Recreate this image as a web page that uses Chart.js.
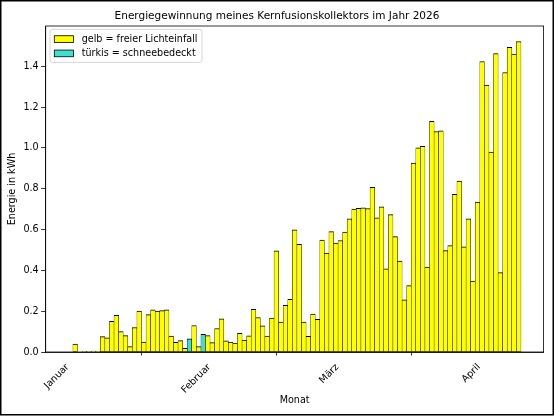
<!DOCTYPE html>
<html>
<head>
<meta charset="utf-8">
<script src="https://cdn.jsdelivr.net/npm/chart.js@4.4.0/dist/chart.umd.min.js"></script>
<style>
  html, body { margin: 0; padding: 0; background: #fff; }
  canvas { display: block; }
</style>
</head>
<body>
<canvas id="energie" width="554" height="416"></canvas>
<script>
// Tageswerte ab 1. Januar 2026 (Index 0 = 01.01.)
var values = [
  0, 0.039, 0, 0.003, 0.003, 0.004, 0.002, 0.075, 0.069, 0.150,
  0.180, 0.100, 0.080, 0.026, 0.120, 0.200, 0.049, 0.183, 0.206, 0.200,
  0.203, 0.206, 0.078, 0.047, 0.056, 0.018, 0.064, 0.130, 0.026, 0.087,
  0.080, 0.046, 0.115, 0.162, 0.055, 0.049, 0.044, 0.092, 0.058, 0.079,
  0.209, 0.169, 0.128, 0.078, 0.166, 0.495, 0.147, 0.229, 0.258, 0.598,
  0.528, 0.147, 0.077, 0.186, 0.160, 0.548, 0.484, 0.590, 0.534, 0.546,
  0.588, 0.652, 0.700, 0.704, 0.706, 0.703, 0.807, 0.657, 0.711, 0.408,
  0.673, 0.565, 0.445, 0.256, 0.325, 0.926, 1.000, 1.008, 0.416, 1.130,
  1.080, 1.083, 0.497, 0.521, 0.773, 0.837, 0.515, 0.652, 0.348, 0.734,
  1.423, 1.307, 0.979, 1.462, 0.389, 1.369, 1.493, 1.460, 1.521
];
// Tage mit Schnee auf dem Kollektor
var snowDays = [26, 29];

var monthLabels = ["Januar", "Februar", "März", "April"];
var monthStartDays = [0, 31, 59, 90];
var yTicks = [0, 0.2, 0.4, 0.6, 0.8, 1.0, 1.2, 1.4];

var seriesLabels = ["gelb = freier Lichteinfall", "türkis = schneebedeckt"];
var titleText = "Energiegewinnung meines Kernfusionskollektors im Jahr 2026";

var FONT = "DejaVu Sans";

var sunData = [];
var snowData = [];
values.forEach(function(v, i) {
    if (snowDays.indexOf(i) > -1) {
        snowData.push({ x: i, y: v });
    } else {
        sunData.push({ x: i, y: v });
    }
});

var barStyle = {
    borderColor: "#000000",
    borderWidth: { top: 1, left: 0.5, right: 0.5, bottom: 0.5 },
    borderSkipped: false,
    barPercentage: 1,
    categoryPercentage: 1,
    grouped: false
};

// Titel (mittig über der ganzen Figur), Rahmen, Legende innen oben links
var framePlugin = {
    id: "frame",
    afterDraw: function(chart) {
        var ctx = chart.ctx;
        var a = chart.chartArea;
        ctx.save();
        ctx.strokeStyle = "#000";
        ctx.lineWidth = 0.8;
        ctx.strokeRect(a.left, a.top, a.right - a.left, a.bottom - a.top);

        ctx.lineWidth = 1.5;
        ctx.strokeRect(0.75, 0.75, 552.5, 414);

        ctx.fillStyle = "#000";
        ctx.font = "10.5px '" + FONT + "'";
        ctx.textAlign = "center";
        ctx.textBaseline = "middle";
        ctx.fillText(titleText, chart.width / 2, 16.2);

        // Legende
        ctx.font = "9.6px '" + FONT + "'";
        var bx = a.left + 4.3, by = a.top + 3.4;
        var textX = bx + 31.7;
        var maxW = 0;
        chart.data.datasets.forEach(function(ds) {
            maxW = Math.max(maxW, ctx.measureText(ds.label).width);
        });
        var bw = textX - bx + maxW + 4.5;
        var bh = 33;
        ctx.beginPath();
        ctx.roundRect(bx, by, bw, bh, 2.5);
        ctx.fillStyle = "rgba(255,255,255,0.8)";
        ctx.fill();
        ctx.strokeStyle = "#cccccc";
        ctx.lineWidth = 0.8;
        ctx.stroke();

        chart.data.datasets.forEach(function(ds, i) {
            var cy = by + 9.7 + i * 14.3;
            ctx.fillStyle = ds.backgroundColor;
            ctx.fillRect(bx + 4.3, cy - 3.35, 19.2, 6.7);
            ctx.strokeStyle = "#000";
            ctx.lineWidth = 0.8;
            ctx.strokeRect(bx + 4.3, cy - 3.35, 19.2, 6.7);
            ctx.fillStyle = "#000";
            ctx.textBaseline = "middle";
            ctx.textAlign = "left";
            ctx.fillText(ds.label, textX, cy);
        });
        ctx.restore();
    }
};

new Chart(document.getElementById("energie"), {
    type: "bar",
    data: {
        datasets: [
            Object.assign({ label: seriesLabels[0], data: sunData, backgroundColor: "#ffff00" }, barStyle),
            Object.assign({ label: seriesLabels[1], data: snowData, backgroundColor: "#40e0d0" }, barStyle)
        ]
    },
    options: {
        responsive: false,
        animation: false,
        layout: { padding: { left: 0, right: 10.4, top: 26, bottom: 0 } },
        plugins: {
            legend: { display: false },
            tooltip: { enabled: false },
            title: { display: false }
        },
        scales: {
            x: {
                type: "linear",
                offset: false,
                min: -5.45,
                max: 103.45,
                afterBuildTicks: function(scale) {
                    scale.ticks = monthStartDays.map(function(d) { return { value: d }; });
                },
                afterFit: function(scale) { scale.height = 64; },
                ticks: {
                    autoSkip: false,
                    minRotation: 45,
                    maxRotation: 45,
                    padding: 6,
                    labelOffset: -3,
                    color: "#000",
                    font: { family: FONT, size: 9.6 },
                    callback: function(value, index) { return monthLabels[index]; }
                },
                grid: { drawOnChartArea: false, drawTicks: true, tickLength: 3.5, tickColor: "#000", tickWidth: 0.8 },
                border: { display: true, color: "#000", width: 0.8 },
                title: {
                    display: true,
                    text: "Monat",
                    color: "#000",
                    font: { family: FONT, size: 9.6 },
                    padding: { top: 0, bottom: 10.2 }
                }
            },
            y: {
                min: 0,
                max: 1.597,
                afterBuildTicks: function(scale) {
                    scale.ticks = yTicks.map(function(v) { return { value: v }; });
                },
                afterFit: function(scale) { scale.width = 45.7; },
                ticks: {
                    padding: 2.5,
                    color: "#000",
                    font: { family: FONT, size: 9.6 },
                    callback: function(value) { return value.toFixed(1); }
                },
                grid: { drawOnChartArea: false, drawTicks: true, tickLength: 4.5, tickColor: "#000", tickWidth: 0.8 },
                border: { display: true, color: "#000", width: 0.8 },
                title: {
                    display: true,
                    text: "Energie in kWh",
                    color: "#000",
                    font: { family: FONT, size: 9.6 },
                    padding: { top: 7.2, bottom: 0 }
                }
            }
        }
    },
    plugins: [framePlugin]
});
</script>
</body>
</html>
